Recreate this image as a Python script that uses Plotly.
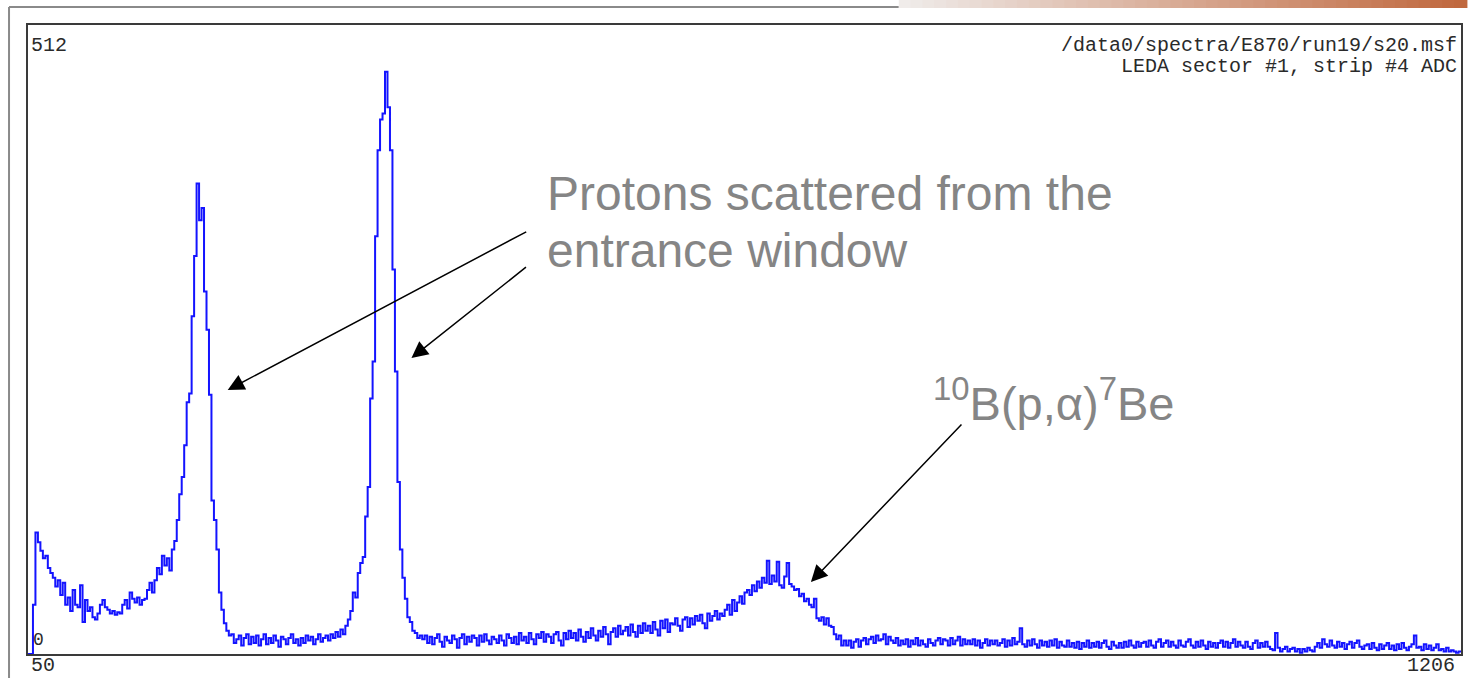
import plotly.graph_objects as go

# Spectrum: LEDA sector #1, strip #4 ADC, channels 50..1206 in 2-channel bins
FIRST_CHANNEL = 50
LAST_CHANNEL = 1206
BIN_WIDTH = 2
Y_MAX = 512

low_energy_tail = [
    0, 0, 40, 99, 91, 84, 78, 80, 70, 66,
    62, 55, 60, 48, 58, 40, 46, 35, 52, 40,
    38, 56, 26, 44, 35, 38, 30, 28, 33, 40,
    44, 38, 36, 33, 35, 32, 34, 33, 40, 44,
    37, 50, 45, 42, 46, 40, 44, 45, 52, 58,
    50, 60, 70, 65, 80, 72, 78, 68, 85, 92,
]
window_peak_1 = [
    109, 130, 144, 170, 205, 212, 275, 324, 383, 353,
    363, 295, 264, 211, 125, 109, 85, 50, 36, 25,
]
valley = [
    19, 15, 16, 9, 12, 15, 7, 13, 16, 8,
    14, 9, 15, 7, 12, 16, 8, 13, 9, 15,
    11, 6, 14, 12, 8, 13, 16, 9, 12, 7,
    13, 9, 15, 11, 14, 8, 12, 16, 10, 13,
    15, 11, 16, 13, 18, 14, 20, 16, 23, 28,
]
window_peak_2 = [
    35, 50, 46, 66, 74, 79, 112, 136, 208, 238,
    340, 410, 435, 440, 474, 445, 410, 313, 230, 140,
    85, 62, 45, 30, 26, 19, 17, 13, 15, 12,
]
plateau = [
    15, 9, 14, 8, 13, 16, 10, 6, 14, 11,
    9, 15, 12, 5, 13, 16, 8, 14, 10, 15,
    13, 7, 15, 10, 16, 11, 8, 14, 12, 9,
    15, 11, 7, 16, 13, 9, 14, 8, 17, 11,
    14, 9, 17, 12, 8, 16, 13, 18, 10, 16,
    14, 9, 16, 18, 11, 7, 17, 12, 19, 13,
    17, 11, 20, 14, 10, 18, 13, 21, 15, 11,
    19, 14, 22, 16, 8, 18, 21, 14, 23, 16,
    19, 22, 15, 24, 18, 14, 23, 17, 25, 19,
    23, 17, 26, 20, 15, 27, 21, 28, 18, 25,
    24, 29, 23, 19, 28, 30, 22, 29, 24, 31,
    27, 32, 25, 21, 33, 27, 31, 35, 28, 33,
    31, 36, 40, 32, 44, 35, 42, 47, 41, 50,
]
boron_bump = [
    52, 48, 56, 51, 59, 54, 62, 58, 76, 57,
    64, 59, 75, 56, 54, 63, 74, 57, 55, 52,
    53, 47, 49, 43, 45, 40, 38, 45, 29, 27,
    30, 24, 29, 23, 22, 16, 12, 15, 7, 11,
]
high_energy_tail = [
    7, 11, 5, 10, 12, 6, 11, 13, 8, 12,
    14, 9, 15, 11, 12, 16, 8, 14, 11, 9,
    13, 7, 11, 8, 12, 6, 11, 8, 13, 7,
    11, 8, 6, 12, 9, 7, 11, 13, 8, 12,
    11, 7, 13, 8, 11, 14, 7, 12, 8, 11,
    8, 12, 7, 11, 5, 9, 12, 7, 11, 8,
    11, 7, 9, 12, 6, 11, 7, 13, 8, 10,
    21, 8, 6, 11, 7, 12, 8, 5, 11, 7,
    10, 6, 11, 7, 12, 5, 10, 7, 6, 11,
    6, 9, 5, 10, 4, 9, 6, 11, 5, 9,
    6, 10, 5, 9, 11, 6, 4, 10, 7, 5,
    9, 5, 10, 6, 11, 7, 5, 10, 6, 9,
    10, 6, 11, 7, 5, 10, 12, 6, 9, 11,
    6, 10, 7, 5, 11, 7, 6, 10, 12, 7,
    5, 10, 6, 11, 7, 4, 10, 6, 9, 5,
    9, 11, 6, 10, 5, 9, 12, 6, 10, 7,
    5, 10, 6, 4, 9, 11, 5, 9, 6, 10,
    6, 4, 3, 17, 5, 2, 4, 6, 2, 4,
    5, 2, 4, 1, 4, 2, 5, 3, 2, 6,
    9, 5, 12, 8, 6, 11, 7, 5, 10, 6,
    9, 4, 8, 10, 5, 9, 11, 6, 4, 7,
    8, 4, 9, 5, 3, 8, 4, 7, 9, 4,
    7, 3, 8, 4, 9, 5, 3, 6, 8, 15,
    5, 6, 3, 8, 4, 7, 3, 5, 8, 3,
    4, 2, 5, 2, 3, 2, 1, 2,
]

header_lines = ["/data0/spectra/E870/run19/s20.msf", "LEDA sector #1, strip #4 ADC"]
label_protons = ["Protons scattered from the", "entrance window"]
label_reaction = "<sup>10</sup>B(p,α)<sup>7</sup>Be"

counts = (low_energy_tail + window_peak_1 + valley + window_peak_2
          + plateau + boron_bump + high_energy_tail)
edges = list(range(FIRST_CHANNEL, LAST_CHANNEL + 1, BIN_WIDTH))
step_x = edges
step_y = counts + [counts[-1]]

W, H = 1468, 678
L, R, T, B = 28, 1463, 25, 654


def px(x):
    return (x - L) / (R - L)


def py(y):
    return (B - y) / (B - T)


fig = go.Figure()
fig.add_trace(go.Scatter(
    x=step_x, y=step_y, mode="lines", line_shape="hv",
    line=dict(color="#1414ff", width=2), hoverinfo="skip", showlegend=False,
))

mono = dict(family="Liberation Mono, Courier New, monospace", size=20, color="#2a2a2a")
sans = dict(family="Liberation Sans, Arial, sans-serif", size=48, color="#858585")

ann = []
ann.append(dict(text="512", x=px(29), y=py(46), xanchor="left", yanchor="middle", font=mono))
ann.append(dict(text=header_lines[0], x=px(1461), y=py(46), xanchor="right", yanchor="middle", font=mono))
ann.append(dict(text=header_lines[1], x=px(1461), y=py(66), xanchor="right", yanchor="middle", font=mono))
ann.append(dict(text="0", x=px(31), y=py(640), xanchor="left", yanchor="middle", font=dict(mono, size=18)))
ann.append(dict(text=str(FIRST_CHANNEL), x=px(29), y=py(665), xanchor="left", yanchor="middle", font=mono))
ann.append(dict(text=str(LAST_CHANNEL), x=px(1459), y=py(665), xanchor="right", yanchor="middle", font=mono))
ann.append(dict(text=label_protons[0], x=px(546), y=py(193), xanchor="left", yanchor="middle", font=sans))
ann.append(dict(text=label_protons[1], x=px(546), y=py(250), xanchor="left", yanchor="middle", font=sans))
ann.append(dict(text=label_reaction, x=px(932), y=py(400), xanchor="left", yanchor="middle",
                font=dict(sans, size=47)))

# arrows: (tip, tail) in pixels
arrows = [((228, 390), (528, 231)), ((412, 358), (528, 266)), ((812, 582), (964, 423))]
for (tx, ty), (sx, sy) in arrows:
    ann.append(dict(text="", x=px(tx), y=py(ty), ax=sx - tx, ay=sy - ty,
                    showarrow=True, arrowhead=2, arrowsize=2.2, arrowwidth=1.5,
                    arrowcolor="black"))

for a in ann:
    a.setdefault("xref", "paper")
    a.setdefault("yref", "paper")
    a.setdefault("showarrow", False)

# slide border: gray rule at top and left, warm gradient at top right
shapes = [
    dict(type="line", xref="paper", yref="paper", x0=px(9), x1=px(9), y0=py(7), y1=py(678),
         line=dict(color="#8a8a8a", width=2)),
    dict(type="line", xref="paper", yref="paper", x0=px(9), x1=px(900), y0=py(7), y1=py(7),
         line=dict(color="#8a8a8a", width=2)),
]
n_seg = 48
g0, g1 = (240, 236, 234), (192, 104, 62)
for k in range(n_seg):
    f = k / (n_seg - 1)
    c = tuple(int(g0[j] + (g1[j] - g0[j]) * f) for j in range(3))
    xa = 900 + (1468 - 900) * k / n_seg
    xb = 900 + (1468 - 900) * (k + 1) / n_seg
    shapes.append(dict(type="rect", xref="paper", yref="paper", x0=px(xa), x1=px(xb) + 0.001,
                       y0=py(8), y1=py(0), fillcolor="rgb(%d,%d,%d)" % c, line=dict(width=0)))

fig.update_layout(
    width=W, height=H, margin=dict(l=L, r=W - R, t=T, b=H - B),
    paper_bgcolor="white", plot_bgcolor="white",
    annotations=ann, shapes=shapes,
    xaxis=dict(range=[FIRST_CHANNEL, LAST_CHANNEL], showgrid=False, zeroline=False,
               showticklabels=False, ticks="", showline=True, mirror=True,
               linecolor="#3a3a3a", linewidth=2),
    yaxis=dict(range=[0, Y_MAX], showgrid=False, zeroline=False,
               showticklabels=False, ticks="", showline=True, mirror=True,
               linecolor="#3a3a3a", linewidth=2),
)

fig.write_html("out.html")
